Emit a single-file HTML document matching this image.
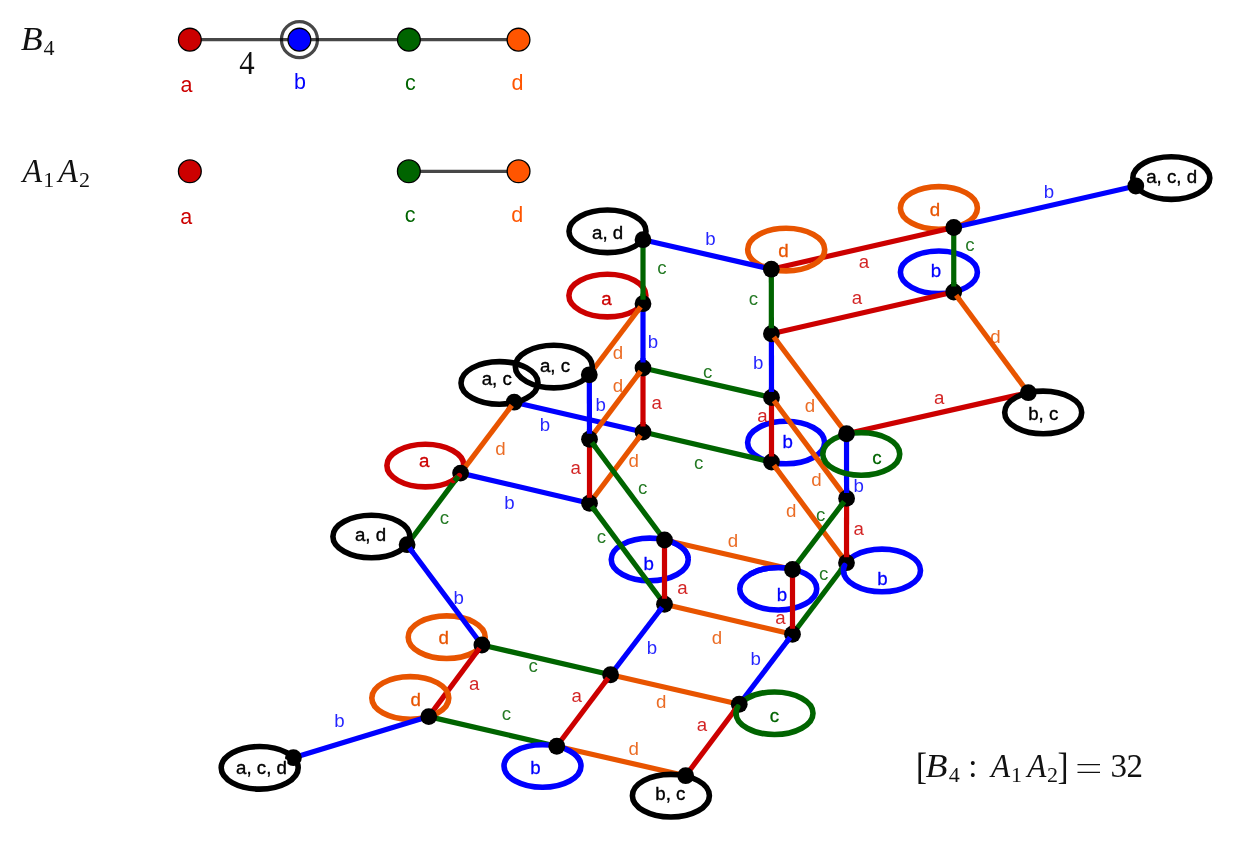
<!DOCTYPE html>
<html><head><meta charset="utf-8"><title>B4 : A1A2 coset graph</title>
<style>html,body{margin:0;padding:0;background:#fff}body{width:1233px;height:842px;overflow:hidden}svg{display:block;will-change:transform}text{font-family:"Liberation Sans",sans-serif}.e{fill:none;stroke-width:5.2;stroke-linecap:butt}.l{fill:none;stroke-width:5.6}.t{font-size:18.7px;text-anchor:middle}.c{fill-opacity:.86}.h{stroke:#fff;stroke-width:3.4px;stroke-linejoin:round}.k{stroke:#000;stroke-width:.36px}.m{font-family:"Liberation Serif",serif;fill:#111}.mi{font-family:"Liberation Serif",serif;font-style:italic;fill:#111}</style></head><body>
<svg width="1233" height="842" viewBox="0 0 1233 842">
<rect width="1233" height="842" fill="#fff"/>
<g>
<line x1="189.8" y1="39.6" x2="518.5" y2="39.6" stroke="#000" stroke-opacity=".72" stroke-width="3.2"/>
<line x1="408.8" y1="171.35" x2="518.5" y2="171.35" stroke="#000" stroke-opacity=".72" stroke-width="3.2"/>
<circle cx="299.45" cy="39.65" r="18" fill="none" stroke="#000" stroke-opacity=".72" stroke-width="3.2"/>
<circle cx="189.85" cy="39.65" r="11.4" fill="#cc0000" stroke="#000" stroke-width="1.3"/>
<circle cx="299.4" cy="39.65" r="11.4" fill="#0000ff" stroke="#000" stroke-width="1.3"/>
<circle cx="408.9" cy="39.65" r="11.4" fill="#006400" stroke="#000" stroke-width="1.3"/>
<circle cx="518.5" cy="39.65" r="11.4" fill="#ff5500" stroke="#000" stroke-width="1.3"/>
<circle cx="189.85" cy="171.3" r="11.4" fill="#cc0000" stroke="#000" stroke-width="1.3"/>
<circle cx="408.85" cy="171.3" r="11.4" fill="#006400" stroke="#000" stroke-width="1.3"/>
<circle cx="518.55" cy="171.3" r="11.4" fill="#ff5500" stroke="#000" stroke-width="1.3"/>
<text x="186.5" y="91.6" font-size="21.5" text-anchor="middle" fill="#cc0000">a</text>
<text x="300" y="88.9" font-size="21.5" text-anchor="middle" fill="#0000ff">b</text>
<text x="410.3" y="90.2" font-size="21.5" text-anchor="middle" fill="#006400">c</text>
<text x="517.4" y="90.2" font-size="21.5" text-anchor="middle" fill="#ff5500">d</text>
<text x="186.3" y="223.5" font-size="21.5" text-anchor="middle" fill="#cc0000">a</text>
<text x="410.2" y="222" font-size="21.5" text-anchor="middle" fill="#006400">c</text>
<text x="517.3" y="222" font-size="21.5" text-anchor="middle" fill="#ff5500">d</text>
</g>
<text class="mi" transform="translate(20.8 50) scale(1.07 1)" font-size="33.5">B</text>
<text class="m" x="43.5" y="55" font-size="22">4</text>
<text class="mi" transform="translate(22.6 182.3) scale(0.96 1)" font-size="33.5">A</text>
<text class="m" x="43.3" y="187.2" font-size="22">1</text>
<text class="mi" transform="translate(58.2 182.3) scale(0.96 1)" font-size="33.5">A</text>
<text class="m" x="79.1" y="187.2" font-size="22">2</text>
<text class="m" transform="translate(239.2 74.2) scale(0.92 1)" font-size="33.5">4</text>
<text class="m" transform="translate(916 778.5) scale(1 1.12)" font-size="33">[</text>
<text class="mi" transform="translate(925.6 777) scale(1.09 1)" font-size="33">B</text>
<text class="m" x="948.8" y="781.8" font-size="22">4</text>
<text class="m" x="968.3" y="777" font-size="33">:</text>
<text class="mi" transform="translate(990.9 777) scale(0.95 1)" font-size="33">A</text>
<text class="m" x="1011" y="781.8" font-size="22">1</text>
<text class="mi" transform="translate(1027.2 777) scale(0.95 1)" font-size="33">A</text>
<text class="m" x="1047" y="781.8" font-size="22">2</text>
<text class="m" transform="translate(1057.5 778.5) scale(1 1.12)" font-size="33">]</text>
<path d="M1077.5 764.6h22.5M1077.5 772.4h22.5" stroke="#111" stroke-width="1.3" fill="none"/>
<text class="m" x="1110.5" y="777" font-size="33">3</text>
<text class="m" x="1126.5" y="777" font-size="33">2</text>
<ellipse class="l" cx="938.9" cy="207.9" rx="38.5" ry="21.3" stroke="#e85400"/>
<ellipse class="l" cx="938.9" cy="272.3" rx="38.5" ry="21.3" stroke="#0000ff"/>
<ellipse class="l" cx="607.4" cy="295.6" rx="38.5" ry="21.3" stroke="#cc0000"/>
<ellipse class="l" cx="786.1" cy="442.5" rx="38.5" ry="21.3" stroke="#0000ff"/>
<ellipse class="l" cx="425.4" cy="465.6" rx="38.5" ry="21.3" stroke="#cc0000"/>
<ellipse class="l" cx="649.75" cy="559.4" rx="38.5" ry="21.3" stroke="#0000ff"/>
<ellipse class="l" cx="778.25" cy="588.75" rx="38.5" ry="21.3" stroke="#0000ff"/>
<ellipse class="l" cx="882" cy="570.4" rx="38.5" ry="21.3" stroke="#0000ff"/>
<ellipse class="l" cx="446.7" cy="637.2" rx="38.5" ry="21.3" stroke="#e85400"/>
<line class="e" x1="771.3" y1="269.2" x2="953.75" y2="227.5" stroke="#cc0000"/>
<line class="e" x1="771.4" y1="333.75" x2="953.75" y2="292" stroke="#cc0000"/>
<line class="e" x1="846.5" y1="433.75" x2="1028.3" y2="392.7" stroke="#cc0000"/>
<line class="e" x1="643" y1="368" x2="643" y2="432" stroke="#cc0000"/>
<line class="e" x1="771.5" y1="397.5" x2="771.5" y2="462" stroke="#cc0000"/>
<line class="e" x1="589.5" y1="439.25" x2="589.5" y2="503.25" stroke="#cc0000"/>
<line class="e" x1="846.6" y1="498.4" x2="846.5" y2="562.7" stroke="#cc0000"/>
<line class="e" x1="664.5" y1="540" x2="664.5" y2="604.25" stroke="#cc0000"/>
<line class="e" x1="792.5" y1="569.5" x2="792.5" y2="634.25" stroke="#cc0000"/>
<line class="e" x1="481.9" y1="645" x2="428.75" y2="716.6" stroke="#cc0000"/>
<line class="e" x1="610.6" y1="674.75" x2="556.75" y2="746.25" stroke="#cc0000"/>
<line class="e" x1="739.25" y1="704.25" x2="685.7" y2="775.7" stroke="#cc0000"/>
<ellipse class="l" cx="786.2" cy="249.6" rx="38.5" ry="21.3" stroke="#e85400"/>
<ellipse class="l" cx="410.3" cy="697.9" rx="38.5" ry="21.3" stroke="#e85400"/>
<line class="e" x1="643" y1="239.7" x2="771.3" y2="269.2" stroke="#0000ff"/>
<line class="e" x1="953.75" y1="227.5" x2="1135.8" y2="186" stroke="#0000ff"/>
<line class="e" x1="643" y1="303.7" x2="643" y2="368" stroke="#0000ff"/>
<line class="e" x1="771.4" y1="333.75" x2="771.5" y2="397.5" stroke="#0000ff"/>
<line class="e" x1="589.3" y1="374.8" x2="589.5" y2="439.25" stroke="#0000ff"/>
<line class="e" x1="514.2" y1="402.2" x2="643" y2="432" stroke="#0000ff"/>
<line class="e" x1="846.5" y1="433.75" x2="846.6" y2="498.4" stroke="#0000ff"/>
<line class="e" x1="460.6" y1="473.1" x2="589.5" y2="503.25" stroke="#0000ff"/>
<line class="e" x1="407.1" y1="544.7" x2="481.9" y2="645" stroke="#0000ff"/>
<line class="e" x1="664.5" y1="604.25" x2="610.6" y2="674.75" stroke="#0000ff"/>
<line class="e" x1="792.5" y1="634.25" x2="739.25" y2="704.25" stroke="#0000ff"/>
<line class="e" x1="428.75" y1="716.6" x2="293.4" y2="757.7" stroke="#0000ff"/>
<line class="e" x1="643" y1="303.7" x2="589.3" y2="374.8" stroke="#e85400"/>
<line class="e" x1="643" y1="368" x2="589.5" y2="439.25" stroke="#e85400"/>
<line class="e" x1="643" y1="432" x2="589.5" y2="503.25" stroke="#e85400"/>
<line class="e" x1="514.2" y1="402.2" x2="460.6" y2="473.1" stroke="#e85400"/>
<line class="e" x1="771.4" y1="333.75" x2="846.5" y2="433.75" stroke="#e85400"/>
<line class="e" x1="771.5" y1="397.5" x2="846.6" y2="498.4" stroke="#e85400"/>
<line class="e" x1="771.5" y1="462" x2="846.5" y2="562.7" stroke="#e85400"/>
<line class="e" x1="953.75" y1="292" x2="1028.3" y2="392.7" stroke="#e85400"/>
<line class="e" x1="664.5" y1="540" x2="792.5" y2="569.5" stroke="#e85400"/>
<line class="e" x1="664.5" y1="604.25" x2="792.5" y2="634.25" stroke="#e85400"/>
<line class="e" x1="610.6" y1="674.75" x2="739.25" y2="704.25" stroke="#e85400"/>
<line class="e" x1="556.75" y1="746.25" x2="685.7" y2="775.7" stroke="#e85400"/>
<line class="e" x1="643" y1="239.7" x2="643" y2="303.7" stroke="#006400"/>
<line class="e" x1="771.3" y1="269.2" x2="771.4" y2="333.75" stroke="#006400"/>
<line class="e" x1="953.75" y1="227.5" x2="953.75" y2="292" stroke="#006400"/>
<line class="e" x1="643" y1="368" x2="771.5" y2="397.5" stroke="#006400"/>
<line class="e" x1="643" y1="432" x2="771.5" y2="462" stroke="#006400"/>
<line class="e" x1="589.5" y1="439.25" x2="664.5" y2="540" stroke="#006400"/>
<line class="e" x1="589.5" y1="503.25" x2="664.5" y2="604.25" stroke="#006400"/>
<line class="e" x1="846.6" y1="498.4" x2="792.5" y2="569.5" stroke="#006400"/>
<line class="e" x1="846.5" y1="562.7" x2="792.5" y2="634.25" stroke="#006400"/>
<line class="e" x1="460.6" y1="473.1" x2="407.1" y2="544.7" stroke="#006400"/>
<line class="e" x1="481.9" y1="645" x2="610.6" y2="674.75" stroke="#006400"/>
<line class="e" x1="428.75" y1="716.6" x2="556.75" y2="746.25" stroke="#006400"/>
<ellipse class="l" cx="607.5" cy="231.3" rx="38.5" ry="21.3" stroke="#000"/>
<ellipse class="l" cx="1171.3" cy="178.1" rx="38.5" ry="21.3" stroke="#000"/>
<ellipse class="l" cx="1043.2" cy="412.4" rx="38.5" ry="21.3" stroke="#000"/>
<ellipse class="l" cx="553.8" cy="366.6" rx="38.5" ry="21.3" stroke="#000"/>
<ellipse class="l" cx="499.5" cy="382.9" rx="38.5" ry="21.3" stroke="#000"/>
<ellipse class="l" cx="861.25" cy="453.9" rx="38.5" ry="21.3" stroke="#006400"/>
<ellipse class="l" cx="371.4" cy="536.5" rx="38.5" ry="21.3" stroke="#000"/>
<ellipse class="l" cx="774.5" cy="713.25" rx="38.5" ry="21.3" stroke="#006400"/>
<ellipse class="l" cx="542.5" cy="766" rx="38.5" ry="21.3" stroke="#0000ff"/>
<ellipse class="l" cx="670.9" cy="795.7" rx="38.5" ry="21.3" stroke="#000"/>
<ellipse class="l" cx="259.7" cy="767.8" rx="38.5" ry="21.3" stroke="#000"/>
<defs><clipPath id="k21"><rect x="668" y="534" width="34" height="24"/></clipPath><clipPath id="k22"><rect x="748" y="558" width="40" height="18"/></clipPath></defs>
<ellipse class="l" clip-path="url(#k21)" cx="649.75" cy="559.4" rx="38.5" ry="21.3" stroke="#0000ff"/>
<ellipse class="l" clip-path="url(#k22)" cx="778.25" cy="588.75" rx="38.5" ry="21.3" stroke="#0000ff"/>
<circle cx="643" cy="239.7" r="8.4" fill="#000"/>
<circle cx="771.3" cy="269.2" r="8.4" fill="#000"/>
<circle cx="953.75" cy="227.5" r="8.4" fill="#000"/>
<circle cx="1135.8" cy="186" r="8.4" fill="#000"/>
<circle cx="953.75" cy="292" r="8.4" fill="#000"/>
<circle cx="771.4" cy="333.75" r="8.4" fill="#000"/>
<circle cx="1028.3" cy="392.7" r="8.4" fill="#000"/>
<circle cx="643" cy="303.7" r="8.4" fill="#000"/>
<circle cx="643" cy="368" r="8.4" fill="#000"/>
<circle cx="771.5" cy="397.5" r="8.4" fill="#000"/>
<circle cx="589.3" cy="374.8" r="8.4" fill="#000"/>
<circle cx="514.2" cy="402.2" r="8.4" fill="#000"/>
<circle cx="643" cy="432" r="8.4" fill="#000"/>
<circle cx="589.5" cy="439.25" r="8.4" fill="#000"/>
<circle cx="771.5" cy="462" r="8.4" fill="#000"/>
<circle cx="846.5" cy="433.75" r="8.4" fill="#000"/>
<circle cx="846.6" cy="498.4" r="8.4" fill="#000"/>
<circle cx="589.5" cy="503.25" r="8.4" fill="#000"/>
<circle cx="460.6" cy="473.1" r="8.4" fill="#000"/>
<circle cx="407.1" cy="544.7" r="8.4" fill="#000"/>
<circle cx="664.5" cy="540" r="8.4" fill="#000"/>
<circle cx="792.5" cy="569.5" r="8.4" fill="#000"/>
<circle cx="846.5" cy="562.7" r="8.4" fill="#000"/>
<circle cx="664.5" cy="604.25" r="8.4" fill="#000"/>
<circle cx="792.5" cy="634.25" r="8.4" fill="#000"/>
<circle cx="481.9" cy="645" r="8.4" fill="#000"/>
<circle cx="610.6" cy="674.75" r="8.4" fill="#000"/>
<circle cx="739.25" cy="704.25" r="8.4" fill="#000"/>
<circle cx="428.75" cy="716.6" r="8.4" fill="#000"/>
<circle cx="556.75" cy="746.25" r="8.4" fill="#000"/>
<circle cx="685.7" cy="775.7" r="8.4" fill="#000"/>
<circle cx="293.4" cy="757.7" r="8.4" fill="#000"/>
<line class="e" x1="640.59" y1="306.89" x2="636.97" y2="311.68" stroke="#e85400"/>
<line class="e" x1="640.60" y1="371.20" x2="637.00" y2="376.00" stroke="#e85400"/>
<line class="e" x1="640.60" y1="435.20" x2="637.00" y2="440.00" stroke="#e85400"/>
<line class="e" x1="511.79" y1="405.39" x2="508.17" y2="410.18" stroke="#e85400"/>
<line class="e" x1="773.80" y1="336.95" x2="777.41" y2="341.75" stroke="#e85400"/>
<line class="e" x1="773.89" y1="400.71" x2="777.47" y2="405.52" stroke="#e85400"/>
<line class="e" x1="773.89" y1="465.21" x2="777.47" y2="470.02" stroke="#e85400"/>
<line class="e" x1="956.13" y1="295.21" x2="959.70" y2="300.04" stroke="#e85400"/>
<line class="e" x1="591.89" y1="442.46" x2="595.47" y2="447.27" stroke="#006400"/>
<line class="e" x1="591.88" y1="506.46" x2="595.46" y2="511.28" stroke="#006400"/>
<line class="e" x1="844.18" y1="501.58" x2="840.54" y2="506.36" stroke="#006400"/>
<line class="e" x1="844.09" y1="565.89" x2="840.48" y2="570.68" stroke="#006400"/>
<line class="e" x1="458.21" y1="476.30" x2="454.61" y2="481.11" stroke="#006400"/>
<line class="e" x1="643.00" y1="299.70" x2="643.00" y2="293.70" stroke="#006400"/>
<line class="e" x1="409.49" y1="547.91" x2="413.08" y2="552.72" stroke="#0000ff"/>
<line class="e" x1="662.07" y1="607.43" x2="658.43" y2="612.19" stroke="#0000ff"/>
<line class="e" x1="790.08" y1="637.43" x2="786.45" y2="642.21" stroke="#0000ff"/>
<line class="e" x1="479.52" y1="648.21" x2="475.94" y2="653.03" stroke="#cc0000"/>
<line class="e" x1="608.19" y1="677.95" x2="604.58" y2="682.74" stroke="#cc0000"/>
<line class="e" x1="736.85" y1="707.45" x2="733.25" y2="712.25" stroke="#cc0000"/>
<line class="e" x1="643.00" y1="426.50" x2="643.00" y2="422.00" stroke="#cc0000"/>
<line class="e" x1="771.50" y1="456.50" x2="771.50" y2="452.00" stroke="#cc0000"/>
<line class="e" x1="589.50" y1="497.75" x2="589.50" y2="493.25" stroke="#cc0000"/>
<line class="e" x1="846.51" y1="557.20" x2="846.52" y2="552.70" stroke="#cc0000"/>
<line class="e" x1="664.50" y1="598.75" x2="664.50" y2="594.25" stroke="#cc0000"/>
<line class="e" x1="792.50" y1="628.75" x2="792.50" y2="624.25" stroke="#cc0000"/>
<line class="e" x1="643.00" y1="362.50" x2="643.00" y2="358.00" stroke="#0000ff"/>
<line class="e" x1="771.49" y1="392.00" x2="771.48" y2="387.50" stroke="#0000ff"/>
<line class="e" x1="589.48" y1="433.75" x2="589.47" y2="429.25" stroke="#0000ff"/>
<line class="e" x1="846.59" y1="492.90" x2="846.58" y2="488.40" stroke="#0000ff"/>
<line class="e" x1="771.39" y1="328.25" x2="771.38" y2="323.75" stroke="#006400"/>
<line class="e" x1="953.75" y1="286.50" x2="953.75" y2="282.00" stroke="#006400"/>
<path class="l" d="M459.27 475.73 L458.97 476.03 L458.66 476.32 L458.35 476.62 L458.03 476.91 L457.70 477.19 L457.36 477.48 L457.01 477.76 L456.65 478.04 L456.29 478.31 L455.92 478.59 L455.54 478.85 L455.15 479.12 L454.76 479.38 L454.35 479.64 L453.94 479.89 L453.53 480.14 L453.10 480.39" stroke="#cc0000" stroke-linecap="round"/>
<path class="l" d="M844.55 565.47 L844.41 565.80 L844.28 566.13 L844.16 566.47 L844.05 566.80 L843.95 567.14 L843.86 567.48 L843.78 567.82 L843.71 568.15 L843.65 568.49 L843.60 568.83 L843.56 569.17 L843.53 569.51 L843.51 569.85 L843.50 570.19 L843.50 570.54 L843.51 570.88 L843.53 571.22 L843.56 571.56 L843.60 571.90 L843.64 572.24 L843.70 572.58 L843.77 572.92" stroke="#0000ff" stroke-linecap="round"/>
<path class="l" d="M737.68 707.03 L737.50 707.36 L737.34 707.68 L737.18 708.01 L737.03 708.34 L736.90 708.68 L736.77 709.01 L736.65 709.35 L736.54 709.68 L736.45 710.02 L736.36 710.35 L736.28 710.69 L736.21 711.03 L736.15 711.37 L736.10 711.71 L736.06 712.05 L736.03 712.39 L736.01 712.73 L736.00 713.07 L736.00 713.41 L736.01 713.75 L736.03 714.09 L736.06 714.43" stroke="#006400" stroke-linecap="round"/>
<line class="e" x1="458.21" y1="476.30" x2="454.61" y2="481.11" stroke="#006400"/>
<text class="t c" x="710.4" y="244.59" fill="#0000ff">b</text>
<text class="t c" x="662" y="273.85" fill="#006400">c</text>
<text class="t c" x="753.5" y="304.65" fill="#006400">c</text>
<text class="t c" x="1049" y="197.69" fill="#0000ff">b</text>
<text class="t c" x="970" y="250.85" fill="#006400">c</text>
<text class="t c" x="864" y="267.85" fill="#cc0000">a</text>
<text class="t c" x="857" y="304.35" fill="#cc0000">a</text>
<text class="t c" x="995.5" y="342.69" fill="#e85400">d</text>
<text class="t c" x="939.3" y="403.60" fill="#cc0000">a</text>
<text class="t c" x="758.25" y="369.19" fill="#0000ff">b</text>
<text class="t c" x="707.6" y="377.85" fill="#006400">c</text>
<text class="t c" x="810" y="411.69" fill="#e85400">d</text>
<text class="t c" x="762.5" y="422.35" fill="#cc0000">a</text>
<text class="t c" x="698.75" y="468.60" fill="#006400">c</text>
<text class="t c" x="816.5" y="486.19" fill="#e85400">d</text>
<text class="t c" x="858.6" y="491.69" fill="#0000ff">b</text>
<text class="t c" x="791.25" y="516.69" fill="#e85400">d</text>
<text class="t c" x="820.6" y="521.10" fill="#006400">c</text>
<text class="t c" x="858.75" y="534.85" fill="#cc0000">a</text>
<text class="t c" x="653" y="347.94" fill="#0000ff">b</text>
<text class="t c" x="618" y="359.19" fill="#e85400">d</text>
<text class="t c" x="618" y="392.19" fill="#e85400">d</text>
<text class="t c" x="600.75" y="411.19" fill="#0000ff">b</text>
<text class="t c" x="656.75" y="409.35" fill="#cc0000">a</text>
<text class="t c" x="545" y="430.94" fill="#0000ff">b</text>
<text class="t c" x="500.5" y="454.79" fill="#e85400">d</text>
<text class="t c" x="575.6" y="474.35" fill="#cc0000">a</text>
<text class="t c" x="633.75" y="467.19" fill="#e85400">d</text>
<text class="t c" x="642.75" y="493.60" fill="#006400">c</text>
<text class="t c" x="509.5" y="508.59" fill="#0000ff">b</text>
<text class="t c" x="444.5" y="523.60" fill="#006400">c</text>
<text class="t c" x="601.5" y="542.55" fill="#006400">c</text>
<text class="t c" x="458.75" y="604.19" fill="#0000ff">b</text>
<text class="t c" x="474.25" y="690.15" fill="#cc0000">a</text>
<text class="t c" x="339.5" y="727.44" fill="#0000ff">b</text>
<text class="t c" x="506.5" y="719.60" fill="#006400">c</text>
<text class="t c" x="533.25" y="671.85" fill="#006400">c</text>
<text class="t c" x="652" y="653.69" fill="#0000ff">b</text>
<text class="t c" x="717" y="644.44" fill="#e85400">d</text>
<text class="t c" x="755.75" y="664.69" fill="#0000ff">b</text>
<text class="t c" x="576.75" y="701.60" fill="#cc0000">a</text>
<text class="t c" x="661.25" y="708.44" fill="#e85400">d</text>
<text class="t c" x="702" y="731.10" fill="#cc0000">a</text>
<text class="t c" x="633.75" y="754.94" fill="#e85400">d</text>
<text class="t c" x="733" y="547.44" fill="#e85400">d</text>
<text class="t c" x="682.5" y="593.60" fill="#cc0000">a</text>
<text class="t c" x="823.75" y="580.35" fill="#006400">c</text>
<text class="t c" x="780.5" y="623.60" fill="#cc0000">a</text>
<text class="t h" x="607.6" y="238.50" fill="#fff">a, d</text>
<text class="t k" x="607.6" y="238.50" fill="#000">a, d</text>
<text class="t h" x="783.5" y="257.44" fill="#fff">d</text>
<text class="t" x="783.5" y="257.44" fill="#e85400" stroke="#e85400" stroke-width=".3">d</text>
<text class="t h" x="935" y="216.19" fill="#fff">d</text>
<text class="t" x="935" y="216.19" fill="#e85400" stroke="#e85400" stroke-width=".3">d</text>
<text class="t h" x="1171.6" y="182.50" fill="#fff">a, c, d</text>
<text class="t k" x="1171.6" y="182.50" fill="#000">a, c, d</text>
<text class="t h" x="936" y="276.69" fill="#fff">b</text>
<text class="t" x="936" y="276.69" fill="#0000ff" stroke="#0000ff" stroke-width=".3">b</text>
<text class="t h" x="1043.2" y="420.00" fill="#fff">b, c</text>
<text class="t k" x="1043.2" y="420.00" fill="#000">b, c</text>
<text class="t h" x="606.5" y="304.85" fill="#fff">a</text>
<text class="t" x="606.5" y="304.85" fill="#cc0000" stroke="#cc0000" stroke-width=".3">a</text>
<text class="t h" x="555" y="372.00" fill="#fff">a, c</text>
<text class="t k" x="555" y="372.00" fill="#000">a, c</text>
<text class="t h" x="496.7" y="385.40" fill="#fff">a, c</text>
<text class="t k" x="496.7" y="385.40" fill="#000">a, c</text>
<text class="t h" x="787.75" y="448.44" fill="#fff">b</text>
<text class="t" x="787.75" y="448.44" fill="#0000ff" stroke="#0000ff" stroke-width=".3">b</text>
<text class="t h" x="877" y="464.45" fill="#fff">c</text>
<text class="t" x="877" y="464.45" fill="#006400" stroke="#006400" stroke-width=".3">c</text>
<text class="t h" x="424.25" y="467.35" fill="#fff">a</text>
<text class="t" x="424.25" y="467.35" fill="#cc0000" stroke="#cc0000" stroke-width=".3">a</text>
<text class="t h" x="370.5" y="540.60" fill="#fff">a, d</text>
<text class="t k" x="370.5" y="540.60" fill="#000">a, d</text>
<text class="t h" x="648.75" y="570.44" fill="#fff">b</text>
<text class="t" x="648.75" y="570.44" fill="#0000ff" stroke="#0000ff" stroke-width=".3">b</text>
<text class="t h" x="782" y="600.94" fill="#fff">b</text>
<text class="t" x="782" y="600.94" fill="#0000ff" stroke="#0000ff" stroke-width=".3">b</text>
<text class="t h" x="882.5" y="584.69" fill="#fff">b</text>
<text class="t" x="882.5" y="584.69" fill="#0000ff" stroke="#0000ff" stroke-width=".3">b</text>
<text class="t h" x="443.7" y="643.69" fill="#fff">d</text>
<text class="t" x="443.7" y="643.69" fill="#e85400" stroke="#e85400" stroke-width=".3">d</text>
<text class="t h" x="774.5" y="721.85" fill="#fff">c</text>
<text class="t" x="774.5" y="721.85" fill="#006400" stroke="#006400" stroke-width=".3">c</text>
<text class="t h" x="415.8" y="705.59" fill="#fff">d</text>
<text class="t" x="415.8" y="705.59" fill="#e85400" stroke="#e85400" stroke-width=".3">d</text>
<text class="t h" x="535.5" y="774.19" fill="#fff">b</text>
<text class="t" x="535.5" y="774.19" fill="#0000ff" stroke="#0000ff" stroke-width=".3">b</text>
<text class="t h" x="670.3" y="799.60" fill="#fff">b, c</text>
<text class="t k" x="670.3" y="799.60" fill="#000">b, c</text>
<text class="t h" x="261.5" y="773.60" fill="#fff">a, c, d</text>
<text class="t k" x="261.5" y="773.60" fill="#000">a, c, d</text>
</svg></body></html>
